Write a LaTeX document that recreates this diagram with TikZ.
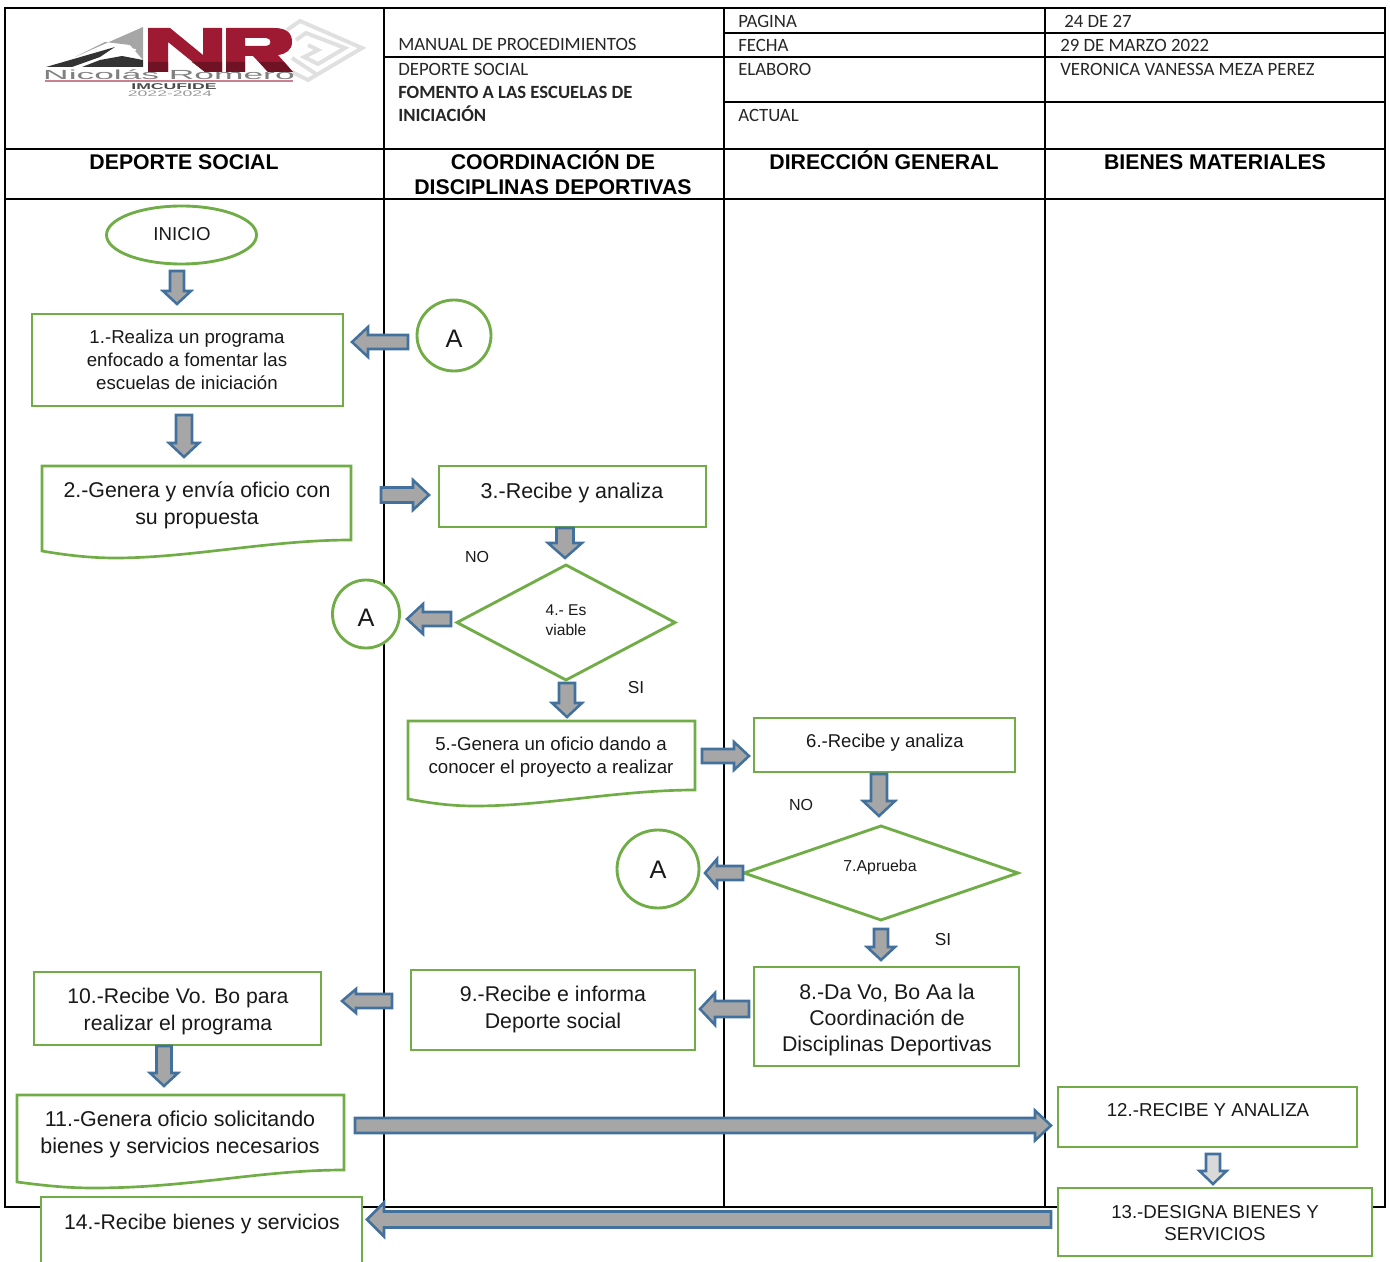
\documentclass[tikz,border=0pt]{standalone}
\usepackage{fontspec}
\usepackage{graphicx}
\setmainfont{Liberation Sans}
\newfontfamily\hdrfont{Carlito}
\usetikzlibrary{shapes.geometric,calc}
\definecolor{stepgreen}{HTML}{70AD47}
\definecolor{arrowblue}{HTML}{41719C}
\definecolor{arrowgray}{HTML}{A6A6A6}
\definecolor{arrowlight}{HTML}{D9D9D9}
\definecolor{logored}{HTML}{9E1A33}
\newcommand\fsz[2]{\fontsize{#1}{#2}\selectfont}
\tikzset{
  grid/.style={draw=black,line width=1.7pt},
  stepbox/.style={draw=stepgreen,line width=2.15pt,fill=white,rectangle,inner sep=0pt,outer sep=0pt},
  stepdoc/.style={draw=stepgreen,line width=2pt,fill=white},
  stepoval/.style={stepbox,ellipse},
  stepdiam/.style={stepbox,diamond},
  txt/.style={inner sep=0pt,align=center,text=black!90},
  hdr/.style={inner sep=0pt,anchor=west,yshift=-1.4pt,text=black!85,text height=9pt,text depth=2.5pt,font=\hdrfont\fsz{14.1pt}{16pt}},
  hdrb/.style={hdr,font=\hdrfont\bfseries\fsz{14pt}{16pt}},
  lane/.style={inner sep=0pt,align=center,font=\bfseries\fsz{15.95pt}{19pt}},
  blockarrow/.style={draw=arrowblue,line width=1.9pt,miter limit=6,fill=arrowgray},
}
% box from its corners, in reference pixels
\newcommand\rectnode[5]{\node[stepbox,anchor=north west,minimum width={(#4-#2)*0.75pt},minimum height={(#5-#3)*0.75pt}] (#1) at (#2,#3) {};}
% block arrow between two named coordinates: half shaft, half head, head length (px), fill
\newcommand\blockarr[6]{%
  \coordinate (headbase) at ($(#2)!#5*0.75pt!(#1)$);
  \draw[blockarrow,fill=#6] ($(#1)!#3*0.75pt!90:(#2)$) -- ($(headbase)!#3*0.75pt!-90:(#1)$) -- ($(headbase)!#4*0.75pt!-90:(#1)$) -- (#2) -- ($(headbase)!#4*0.75pt!90:(#1)$) -- ($(headbase)!#3*0.75pt!90:(#1)$) -- ($(#1)!#3*0.75pt!-90:(#2)$) -- cycle;
}
\begin{document}
\begin{tikzpicture}[x=0.75pt,y=-0.75pt]
\useasboundingbox (0,0) rectangle (1390,1262);
% ---------- logo
\begin{scope}
  \begin{scope}[line width=3pt,color=black!12]
    \draw (287,30) -- (300,21) -- (362,48) -- (308,80) -- (292,72);
    \draw (296,40) -- (306,33) -- (345,48) -- (318,64) -- (304,57) -- (318,50) -- (308,45);
    \draw (292,58) -- (304,66) -- (316,74);
  \end{scope}
  \fill[black!35] (75,57) -- (143,27) -- (143,60) -- (130,45) -- (105,42) -- cycle;
  \fill[black!80] (46,67) -- (115,47) -- (100,57) -- (72,67) -- cycle;
  \fill[black!80] (82,67) -- (100,60) -- (122,56) -- (143,60) -- (143,67) -- cycle;
  \draw[white,line width=1.1pt] (104,58) .. controls (108,50) and (120,46) .. (136,50);
  \fill[logored] (148,28) -- (170,28) -- (203,55) -- (203,28) -- (222,28) -- (222,72) -- (205,72) -- (168,42) -- (168,72) -- (148,72) -- cycle;
  \fill[logored,even odd rule] (226,28) -- (274,28) .. controls (288,28) and (292,34) .. (292,42) .. controls (292,50) and (286,54) .. (278,55) -- (293,72) -- (268,72) -- (253,56) -- (245,56) -- (245,72) -- (226,72) -- cycle (245,38) -- (245,46) -- (266,46) .. controls (272,46) and (272,38) .. (266,38) -- cycle;
  \begin{scope}
    \clip (148,62) -- (148,72) -- (168,72) -- (168,62) -- cycle (192,62) -- (205,72) -- (222,72) -- (222,62) -- cycle (226,62) -- (226,72) -- (245,72) -- (245,62) -- cycle (259,62) -- (268,72) -- (293,72) -- (284,62) -- cycle;
    \fill[logored!70!black] (140,60) rectangle (300,74);
  \end{scope}
  \draw[color=logored!55,line width=1pt] (45,81) -- (293,81);
  \node[inner sep=0pt,text=black!50] (logoname) at (169,75) {\scalebox{2.55}[0.95]{\fsz{10.4pt}{11pt}Nicolás Romero}};
  \node[inner sep=0pt,text=black!70] (logosub) at (174,87) {\scalebox{2.1}[1]{\bfseries\fsz{6.3pt}{7pt}IMCUFIDE}};
  \node[inner sep=0pt,text=black!40] (logoyear) at (170,94) {\scalebox{2.2}[1]{\fsz{6pt}{7pt}2022-2024}};
\end{scope}
% ---------- table
\draw[grid] (5,8) rectangle (1385,1207);
\draw[grid] (384,8) -- (384,1207);
\draw[grid] (724,8) -- (724,1207);
\draw[grid] (1045,8) -- (1045,1207);
\draw[grid] (5,149) -- (1385,149);
\draw[grid] (5,199) -- (1385,199);
\draw[grid] (384,57) -- (1385,57);
\draw[grid] (724,33) -- (1385,33);
\draw[grid] (724,102) -- (1385,102);
\node[hdr] (h1) at (398,44) {MANUAL DE PROCEDIMIENTOS};
\node[hdr] (h2) at (398,69) {DEPORTE SOCIAL};
\node[hdrb] (h3) at (398,92) {FOMENTO A LAS ESCUELAS DE};
\node[hdrb] (h4) at (398,115) {INICIACIÓN};
\node[hdr] (h5) at (738,21) {PAGINA};
\node[hdr] (h6) at (738,45) {FECHA};
\node[hdr] (h7) at (738,69) {ELABORO};
\node[hdr] (h8) at (738,115) {ACTUAL};
\node[hdr] (h9) at (1064,21) {24 DE 27};
\node[hdr] (h10) at (1060,45) {29 DE MARZO 2022};
\node[hdr] (h11) at (1060,69) {VERONICA VANESSA MEZA PEREZ};
\node[lane] (l1) at (184,162) {DEPORTE SOCIAL};
\node[lane] (l2) at (553,172.5) {COORDINACIÓN DE\\DISCIPLINAS DEPORTIVAS};
\node[lane] (l3) at (884,160) {DIRECCIÓN GENERAL};
\node[lane] (l4) at (1215,162) {BIENES MATERIALES};
% ---------- steps
\node[stepoval,minimum width={150*0.75pt},minimum height={58*0.75pt}] (inicio) at (181.5,235) {};
\node[txt,font=\fsz{14pt}{17pt}] (inicioT) at (182,234) {INICIO};
\rectnode{n1}{32}{314}{343}{406}
\node[txt,font=\fsz{14pt}{17.25pt}] (n1T) at (187,360) {1.-Realiza un programa\\enfocado a fomentar las\\escuelas de iniciación};
\draw[stepdoc] (42,466) -- (351,466) -- (351,540) .. controls (270,540) and (190,558) .. (115,558) .. controls (90,558) and (65,555) .. (42,551) -- cycle;
\node[txt,font=\fsz{16pt}{20.25pt}] (n2T) at (197,505) {2.-Genera y envía oficio con\\su propuesta};
\rectnode{n3}{439}{466}{706}{527}
\node[txt,font=\fsz{16.1pt}{20pt}] (n3T) at (572,492.5) {3.-Recibe y analiza};
\node[stepdiam,minimum width={218*0.75pt},minimum height={115*0.75pt}] (n4) at (566,622.5) {};
\node[txt,font=\fsz{11.7pt}{15pt}] (n4T) at (566,620) {4.- Es\\viable};
\draw[stepdoc] (408,721) -- (695,721) -- (695,790) .. controls (620,790) and (545,806) .. (475,806) .. controls (450,806) and (430,803) .. (408,799) -- cycle;
\node[txt,font=\fsz{14pt}{17.25pt}] (n5T) at (551,757) {5.-Genera un oficio dando a\\conocer el proyecto a realizar};
\rectnode{n6}{754}{718}{1015}{772}
\node[txt,font=\fsz{13.9pt}{17pt}] (n6T) at (885,742.5) {6.-Recibe y analiza};
\node[stepdiam,minimum width={274*0.75pt},minimum height={94*0.75pt}] (n7) at (881,873) {};
\node[txt,font=\fsz{11.9pt}{15pt}] (n7T) at (880,867.5) {7.Aprueba};
\rectnode{n8}{754}{967}{1019}{1066}
\node[txt,font=\fsz{16pt}{19.8pt}] (n8T) at (887,1020) {8.-Da Vo, Bo Aa la\\Coordinación de\\Disciplinas Deportivas};
\rectnode{n9}{411}{970}{695}{1050}
\node[txt,font=\fsz{16pt}{19.8pt}] (n9T) at (553,1009.5) {9.-Recibe e informa\\Deporte social};
\rectnode{n10}{34}{972}{321}{1045}
\node[txt,font=\fsz{15.9pt}{19.8pt}] (n10T) at (178,1011.5) {10.-Recibe Vo. Bo para\\realizar el programa};
\draw[stepdoc] (17,1095) -- (344,1095) -- (344,1170) .. controls (260,1170) and (190,1188) .. (93,1188) .. controls (65,1188) and (40,1185) .. (17,1182) -- cycle;
\node[txt,font=\fsz{16.1pt}{20.2pt}] (n11T) at (180,1134) {11.-Genera oficio solicitando\\bienes y servicios necesarios};
\rectnode{n12}{1058}{1087}{1357}{1147}
\node[txt,font=\fsz{14pt}{17pt}] (n12T) at (1208,1110) {12.-RECIBE Y ANALIZA};
\rectnode{n13}{1058}{1188}{1372}{1256}
\node[txt,font=\fsz{14pt}{16.5pt}] (n13T) at (1215,1223) {13.-DESIGNA BIENES Y\\SERVICIOS};
\rectnode{n14}{41}{1197}{362}{1285}
\node[txt,font=\fsz{15.9pt}{19.8pt}] (n14T) at (202,1224.5) {14.-Recibe bienes y servicios};
\node[stepoval,minimum width={74*0.75pt},minimum height={71*0.75pt}] (a1) at (454,335.5) {};
\node[txt,font=\fsz{19pt}{22pt}] (a1T) at (454,339) {A};
\node[stepoval,minimum width={67*0.75pt},minimum height={68*0.75pt}] (a2) at (366,614) {};
\node[txt,font=\fsz{19pt}{22pt}] (a2T) at (366,618) {A};
\node[stepoval,minimum width={82*0.75pt},minimum height={78*0.75pt}] (a3) at (658,869) {};
\node[txt,font=\fsz{19pt}{22pt}] (a3T) at (658,870) {A};
\node[txt,font=\fsz{12pt}{14pt}] (no1) at (477,557) {NO};
\node[txt,font=\fsz{13pt}{15pt}] (si1) at (636,688) {SI};
\node[txt,font=\fsz{12pt}{14pt}] (no2) at (801,805) {NO};
\node[txt,font=\fsz{13pt}{15pt}] (si2) at (943,940) {SI};
% ---------- connectors
\coordinate (c1s) at (177,271);   \coordinate (c1e) at (177,304);
\coordinate (c2s) at (408,342);   \coordinate (c2e) at (352,342);
\coordinate (c3s) at (184,415);   \coordinate (c3e) at (184,457);
\coordinate (c4s) at (381,495);   \coordinate (c4e) at (429,495);
\coordinate (c5s) at (565,528);   \coordinate (c5e) at (565,558);
\coordinate (c6s) at (451,619);   \coordinate (c6e) at (407,619);
\coordinate (c7s) at (567,683);   \coordinate (c7e) at (567,717);
\coordinate (c8s) at (702,756);   \coordinate (c8e) at (749,756);
\coordinate (c9s) at (879,774);   \coordinate (c9e) at (879,816);
\coordinate (c10s) at (743,873);  \coordinate (c10e) at (705,873);
\coordinate (c11s) at (881,929);  \coordinate (c11e) at (881,960);
\coordinate (c12s) at (749,1009); \coordinate (c12e) at (700,1009);
\coordinate (c13s) at (392,1001); \coordinate (c13e) at (342,1001);
\coordinate (c14s) at (164,1046); \coordinate (c14e) at (164,1086);
\coordinate (c15s) at (355,1125.5); \coordinate (c15e) at (1051,1125.5);
\coordinate (c16s) at (1213,1154); \coordinate (c16e) at (1213,1184);
\coordinate (c17s) at (1051,1219.5); \coordinate (c17e) at (367,1219.5);
\blockarr{c1s}{c1e}{7}{14}{13}{arrowgray}
\blockarr{c2s}{c2e}{7}{15}{16}{arrowgray}
\blockarr{c3s}{c3e}{8}{15}{14}{arrowgray}
\blockarr{c4s}{c4e}{7.5}{15}{16}{arrowgray}
\blockarr{c5s}{c5e}{8.5}{17}{15}{arrowgray}
\blockarr{c6s}{c6e}{7}{15}{16}{arrowgray}
\blockarr{c7s}{c7e}{8}{15}{14}{arrowgray}
\blockarr{c8s}{c8e}{7}{14}{15}{arrowgray}
\blockarr{c9s}{c9e}{8}{16}{15}{arrowgray}
\blockarr{c10s}{c10e}{7}{14}{12}{arrowgray}
\blockarr{c11s}{c11e}{7}{14}{13}{arrowgray}
\blockarr{c12s}{c12e}{8}{16}{15}{arrowgray}
\blockarr{c13s}{c13e}{7}{12}{14}{arrowgray}
\blockarr{c14s}{c14e}{7.5}{14}{13}{arrowgray}
\blockarr{c15s}{c15e}{7.5}{15}{16}{arrowgray}
\blockarr{c16s}{c16e}{7}{13.5}{13}{arrowlight}
\blockarr{c17s}{c17e}{8}{17}{17}{arrowgray}
\end{tikzpicture}
\end{document}
